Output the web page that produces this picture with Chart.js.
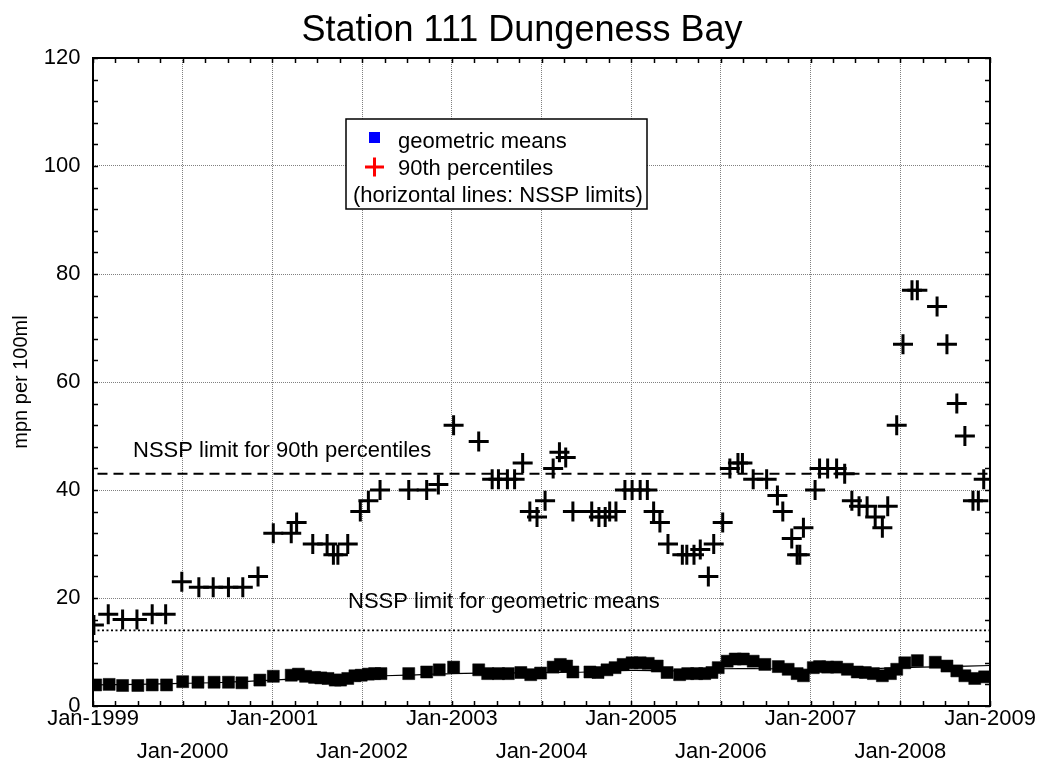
<!DOCTYPE html>
<html>
<head>
<meta charset="utf-8">
<title>Station 111 Dungeness Bay</title>
<script src="https://cdn.jsdelivr.net/npm/chart.js@4.4.0/dist/chart.umd.min.js"></script>
<style>
	html, body { margin: 0; padding: 0; background: #fff; }
</style>
</head>
<body>
<canvas id="stationChart" width="1044" height="769"></canvas>
<script>
// Sample dates are decimal years
const pctYears = [1999.01, 1999.17, 1999.33, 1999.49, 1999.66, 1999.81, 1999.99,
	2000.18, 2000.34, 2000.51, 2000.67, 2000.84,
	2001.01, 2001.21, 2001.27, 2001.45, 2001.61, 2001.68, 2001.73, 2001.84, 2001.98,
	2002.07, 2002.20, 2002.52, 2002.72, 2002.85,
	2003.02, 2003.30, 2003.45, 2003.52, 2003.62, 2003.70, 2003.79, 2003.87, 2003.95,
	2004.04, 2004.13, 2004.20, 2004.27, 2004.35, 2004.56, 2004.64, 2004.71, 2004.76, 2004.83, 2004.93,
	2005.01, 2005.10, 2005.18, 2005.25, 2005.32, 2005.41, 2005.57, 2005.62, 2005.70, 2005.77, 2005.86, 2005.92,
	2006.02, 2006.10, 2006.19, 2006.24, 2006.36, 2006.51, 2006.63, 2006.69, 2006.79, 2006.85, 2006.88, 2006.92,
	2007.05, 2007.10, 2007.19, 2007.29, 2007.38, 2007.46, 2007.54, 2007.63, 2007.72, 2007.80, 2007.86, 2007.96,
	2008.03, 2008.13, 2008.19, 2008.41, 2008.52, 2008.63, 2008.72, 2008.81, 2008.87, 2008.93];
const pctValues = [15, 17, 16, 16, 17, 17, 23,
	22, 22, 22, 22, 24,
	32, 32, 34, 30, 30, 28, 28, 30, 36,
	38, 40, 40, 40, 41,
	52, 49, 42, 42, 42, 42, 45, 36, 35,
	38, 44, 47, 46, 36, 36, 35, 35, 36, 36, 40,
	40, 40, 40, 36, 34, 30, 28, 28, 28, 29, 24, 30,
	34, 44, 45, 45, 42, 42, 39, 36, 31, 28, 28, 33,
	40, 44, 44, 44, 43, 38, 37, 37, 35, 33, 37, 52,
	67, 77, 77, 74, 67, 56, 50, 38, 38, 42];

const gmYears = [1999.03, 1999.18, 1999.33, 1999.50, 1999.66, 1999.82,
	2000.00, 2000.17, 2000.35, 2000.51, 2000.66, 2000.86,
	2001.01, 2001.21, 2001.29, 2001.37, 2001.47, 2001.54, 2001.62, 2001.70, 2001.76, 2001.84, 2001.92, 2001.99,
	2002.07, 2002.14, 2002.21, 2002.52, 2002.72, 2002.86,
	2003.02, 2003.30, 2003.40, 2003.52, 2003.63, 2003.77, 2003.88, 2003.99,
	2004.13, 2004.21, 2004.28, 2004.35, 2004.54, 2004.63, 2004.73, 2004.82, 2004.91,
	2005.01, 2005.10, 2005.19, 2005.29, 2005.40, 2005.54, 2005.63, 2005.73, 2005.82, 2005.90, 2005.97,
	2006.07, 2006.16, 2006.25, 2006.36, 2006.49, 2006.64, 2006.75, 2006.85, 2006.92,
	2007.03, 2007.10, 2007.19, 2007.29, 2007.41, 2007.52, 2007.61, 2007.70, 2007.80, 2007.89, 2007.96,
	2008.05, 2008.19, 2008.39, 2008.52, 2008.63, 2008.72, 2008.83, 2008.94];
const gmValues = [3.9, 4.0, 3.8, 3.8, 3.9, 3.9,
	4.5, 4.4, 4.4, 4.4, 4.3, 4.8,
	5.5, 5.7, 5.9, 5.5, 5.3, 5.2, 5.1, 4.8, 4.8, 5.1, 5.6, 5.7,
	5.9, 6.0, 6.0, 6.0, 6.3, 6.7,
	7.2, 6.7, 6.0, 6.0, 6.0, 6.2, 5.8, 6.1,
	7.2, 7.7, 7.4, 6.3, 6.3, 6.2, 6.7, 7.1, 7.7,
	8.0, 8.0, 7.9, 7.4, 6.2, 5.8, 6.0, 6.0, 6.0, 6.2, 7.1,
	8.3, 8.7, 8.7, 8.3, 7.7, 7.3, 6.8, 6.0, 5.6,
	7.1, 7.3, 7.2, 7.2, 6.8, 6.3, 6.2, 6.0, 5.6, 6.0, 6.8,
	8.0, 8.4, 8.1, 7.4, 6.5, 5.6, 5.1, 5.4];

// Smoothed trend through the geometric means
const trendYears = [1999.0, 1999.5, 2000.0, 2000.5, 2001.0, 2001.5, 2002.0, 2002.5, 2003.0, 2003.5,
	2004.0, 2004.5, 2005.0, 2005.5, 2006.0, 2006.5, 2007.0, 2007.5, 2008.0, 2008.5, 2009.0];
const trendValues = [3.9, 4.0, 4.2, 4.4, 4.8, 5.2, 5.5, 5.7, 6.0, 6.1,
	6.2, 6.3, 6.6, 6.5, 6.9, 6.9, 6.8, 6.8, 7.1, 7.3, 7.5];

// NSSP limits
const pctLimit = 43;
const gmLimit = 14;
const limitSpan = [1999.05, 2009];

const xTickLabels = ['Jan-1999', 'Jan-2000', 'Jan-2001', 'Jan-2002', 'Jan-2003', 'Jan-2004',
	'Jan-2005', 'Jan-2006', 'Jan-2007', 'Jan-2008', 'Jan-2009'];

const FONT = "'Liberation Sans', Arial, Helvetica, sans-serif";
Chart.defaults.font.family = FONT;
Chart.defaults.color = '#000';

const toPoints = (xs, ys) => xs.map((x, i) => ({ x: x, y: ys[i] }));

// Frame, inward tick marks, limit captions and the legend box
const chartDecor = {
	id: 'chartDecor',
	afterDatasetsDraw(chart) {
		const { ctx, chartArea: a, scales: { x, y } } = chart;
		ctx.save();

		ctx.strokeStyle = '#000';
		ctx.lineWidth = 1.5;
		ctx.beginPath();
		for (let t = 1999; t <= 2009.001; t += 0.25) {
			const px = Math.round(x.getPixelForValue(t)) + 0.5;
			ctx.moveTo(px, a.bottom); ctx.lineTo(px, a.bottom - 5);
			ctx.moveTo(px, a.top); ctx.lineTo(px, a.top + 5);
		}
		for (let v = 0; v <= 120; v += 4) {
			const py = Math.round(y.getPixelForValue(v)) + 0.5;
			ctx.moveTo(a.left, py); ctx.lineTo(a.left + 5, py);
			ctx.moveTo(a.right, py); ctx.lineTo(a.right - 5, py);
		}
		ctx.stroke();

		ctx.lineWidth = 2;
		ctx.strokeRect(a.left, a.top, a.right - a.left, a.bottom - a.top);

		ctx.fillStyle = '#000';
		ctx.font = '22px ' + FONT;
		ctx.textAlign = 'left';
		ctx.textBaseline = 'alphabetic';
		ctx.fillText('NSSP limit for 90th percentiles', x.getPixelForValue(1999.446), y.getPixelForValue(pctLimit) - 17);
		ctx.fillText('NSSP limit for geometric means', x.getPixelForValue(2001.843), y.getPixelForValue(gmLimit) - 22);

		// legend
		const lx = a.left + 253, ly = a.top + 61;
		ctx.fillStyle = '#fff';
		ctx.fillRect(lx, ly, 301, 90);
		ctx.lineWidth = 1.5;
		ctx.strokeStyle = '#000';
		ctx.strokeRect(lx, ly, 301, 90);

		ctx.fillStyle = '#0000ff';
		ctx.fillRect(lx + 23, ly + 13, 11, 11);

		ctx.strokeStyle = '#ff0000';
		ctx.lineWidth = 3;
		ctx.beginPath();
		ctx.moveTo(lx + 19, ly + 48); ctx.lineTo(lx + 38, ly + 48);
		ctx.moveTo(lx + 28.5, ly + 38.5); ctx.lineTo(lx + 28.5, ly + 57.5);
		ctx.stroke();

		ctx.fillStyle = '#000';
		ctx.fillText('geometric means', lx + 52, ly + 29);
		ctx.fillText('90th percentiles', lx + 52, ly + 56);
		ctx.fillText('(horizontal lines: NSSP limits)', lx + 7, ly + 83);

		ctx.restore();
	}
};

const gridDots = { color: '#808080', lineWidth: 1, drawTicks: false };

new Chart(document.getElementById('stationChart'), {
	type: 'scatter',
	data: {
		datasets: [
			{
				label: '90th percentiles',
				data: toPoints(pctYears, pctValues),
				pointStyle: 'cross',
				pointRadius: 10,
				borderWidth: 3,
				borderColor: '#000',
				order: 1,
			},
			{
				label: 'geometric means',
				data: toPoints(gmYears, gmValues),
				pointStyle: 'rect',
				pointRadius: 8.5,
				backgroundColor: '#000',
				borderColor: '#000',
				borderWidth: 0.5,
				order: 2,
			},
			{
				type: 'line',
				label: 'trend',
				data: toPoints(trendYears, trendValues),
				borderColor: '#000',
				borderWidth: 1.2,
				tension: 0.4,
				pointRadius: 0,
				order: 3,
			},
			{
				type: 'line',
				label: 'NSSP limit for 90th percentiles',
				data: toPoints(limitSpan, [pctLimit, pctLimit]),
				borderColor: '#000',
				borderWidth: 2,
				borderDash: [10, 6],
				pointRadius: 0,
				order: 4,
			},
			{
				type: 'line',
				label: 'NSSP limit for geometric means',
				data: toPoints(limitSpan, [gmLimit, gmLimit]),
				borderColor: '#000',
				borderWidth: 1.7,
				borderDash: [2, 2.5],
				pointRadius: 0,
				order: 5,
			},
		],
	},
	options: {
		responsive: false,
		animation: false,
		events: [],
		plugins: {
			legend: { display: false },
			tooltip: { enabled: false },
			title: {
				display: true,
				text: 'Station 111 Dungeness Bay',
				color: '#000',
				font: { size: 36, weight: 'normal', lineHeight: 1.2 },
				padding: { top: 9.4, bottom: 5.4 },
			},
		},
		scales: {
			x: {
				type: 'linear',
				min: 1999,
				max: 2009,
				grid: gridDots,
				border: { display: false, dash: [1, 1] },
				ticks: {
					stepSize: 1,
					autoSkip: false,
					maxRotation: 0,
					minRotation: 0,
					padding: -3.5,
					font: { size: 22, lineHeight: '33px' },
					// alternate labels between two rows
					callback: (value, index) => index % 2 === 0 ? xTickLabels[index] : ['', xTickLabels[index]],
				},
				// room on the right for the last label
				afterFit: (scale) => { scale.height = 63; scale.paddingRight = 54; },
			},
			y: {
				min: 0,
				max: 120,
				grid: gridDots,
				border: { display: false, dash: [1, 1] },
				ticks: {
					stepSize: 20,
					padding: 12.5,
					font: { size: 22 },
				},
				title: {
					display: true,
					text: 'mpn per 100ml',
					color: '#000',
					font: { size: 20 },
					padding: { top: 9, bottom: 0 },
				},
				afterFit: (scale) => { scale.width = 93; },
			},
		},
	},
	plugins: [chartDecor],
});
</script>
</body>
</html>
